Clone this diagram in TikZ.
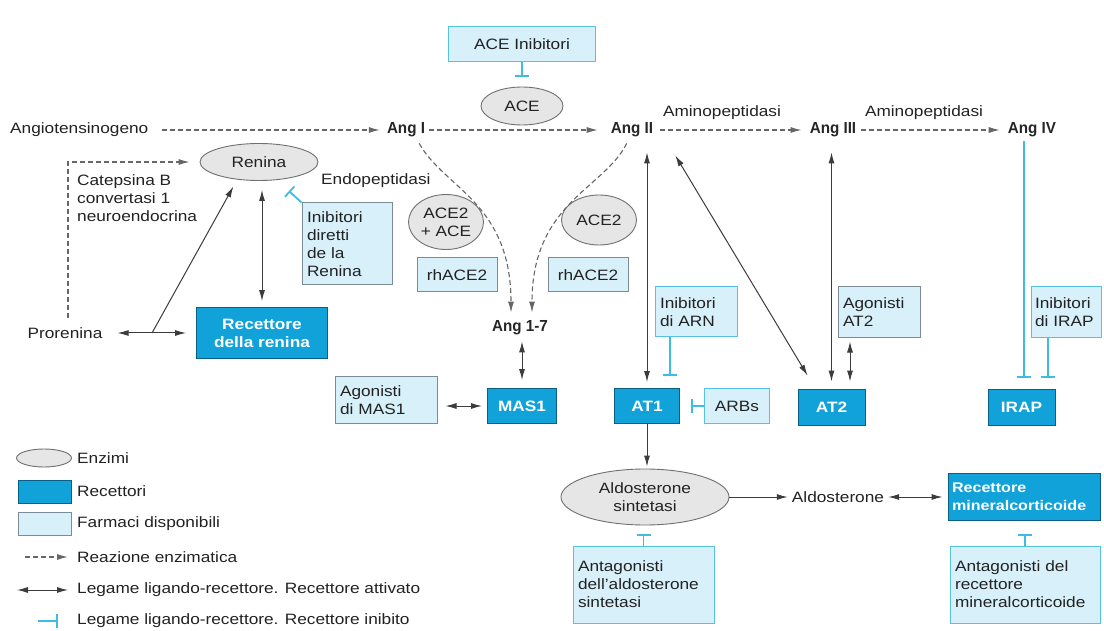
\documentclass[tikz,border=0pt]{standalone}
\usepackage{fontspec}
\setmainfont{Liberation Sans}[FakeStretch=1.15]
\newfontfamily\angfont{Liberation Sans}[FakeStretch=0.95]
\usetikzlibrary{shapes.geometric,arrows.meta,calc}
\definecolor{recfill}{HTML}{12A2DA}
\definecolor{recdraw}{HTML}{0B5F86}
\definecolor{drugfill}{HTML}{D7F0FA}
\definecolor{drugcyan}{HTML}{55C2E2}
\definecolor{druggray}{HTML}{7C8C94}
\definecolor{enzfill}{HTML}{E6E6E6}
\definecolor{enzdraw}{HTML}{707070}
\definecolor{inhcol}{HTML}{3DBDE0}
\definecolor{arrcol}{HTML}{3C3C3C}
\definecolor{dashcol}{HTML}{666666}
\definecolor{txtcol}{HTML}{222222}
\begin{document}
\begin{tikzpicture}[x=1pt,y=-1pt,
  every node/.style={font=\fontsize{15}{18}\selectfont, inner sep=0pt, text=txtcol},
  enz/.style={ellipse, draw=enzdraw, fill=enzfill, line width=0.9pt, align=center},
  recbox/.style={rectangle, draw=recdraw, fill=recfill, line width=0.9pt, text=white, font=\fontsize{15}{18}\selectfont\bfseries, align=center},
  drugbox/.style={rectangle, draw=druggray, fill=drugfill, line width=1pt, inner xsep=5pt, align=left},
  drugcy/.style={drugbox, draw=drugcyan},
  angl/.style={font=\fontsize{16}{18}\angfont\bfseries, text=black!85},
  enzarr/.style={draw=dashcol, line width=1.1pt, dash pattern=on 5pt off 3pt, -{Latex[length=11pt,width=6pt]}},
  bindarr/.style={draw=arrcol, line width=1pt, {Latex[length=11pt,width=6pt]}-{Latex[length=11pt,width=6pt]}},
  actarr/.style={draw=arrcol, line width=1pt, -{Latex[length=11pt,width=6pt]}},
  inharr/.style={draw=inhcol, line width=1.8pt, -{Bar[width=14pt,line width=1.8pt]}},
]
\fill[white] (0,0) rectangle (1104,631);
\useasboundingbox (0,0) rectangle (1104,631);

% top row
\node[drugcy, minimum width=147pt, minimum height=35pt, align=center] (aceinib) at (522,44) {ACE Inibitori};
\node[enz, minimum width=82pt, minimum height=38pt] (ace) at (522,106) {ACE};
\node[anchor=west] (angtxt) at (10,130) {Angiotensinogeno};
\node[angl] (angI) at (406,130) {Ang I};
\node[angl] (angII) at (632,130) {Ang II};
\node[angl] (angIII) at (833,130) {Ang III};
\node[angl] (angIV) at (1032,130) {Ang IV};
\node (amino1) at (722,113) {Aminopeptidasi};
\node (amino2) at (924,113) {Aminopeptidasi};

% renin part
\node[enz, minimum width=118pt, minimum height=37pt] (renina) at (259,162) {Renina};
\node[anchor=west] (endo) at (321,181) {Endopeptidasi};
\node[anchor=west, align=left] (catep) at (77,198.5) {Catepsina B\\convertasi 1\\neuroendocrina};
\node (pror) at (65,333) {Prorenina};
\node[recbox, minimum width=131pt, minimum height=51pt] (recren) at (262,333) {Recettore\\della renina};
\node[drugbox, minimum width=90pt, minimum height=82pt, text width=80pt] (inibdir) at (347,244) {Inibitori\\diretti\\de la\\Renina};

% ACE2 part
\node[enz, minimum width=75pt, minimum height=55pt] (ace2ace) at (446,222) {ACE2\\+ ACE};
\node[drugbox, minimum width=80pt, minimum height=34pt, align=center] (rh1) at (457,275) {rhACE2};
\node[enz, minimum width=75pt, minimum height=50pt] (ace2) at (599,220) {ACE2};
\node[drugbox, minimum width=80pt, minimum height=34pt, align=center] (rh2) at (588,275) {rhACE2};
\node[angl] (ang17) at (520,328) {Ang 1-7};

% receptors
\node[recbox, minimum width=69pt, minimum height=35pt] (mas1) at (522,406) {MAS1};
\node[drugbox, minimum width=102pt, minimum height=47pt, text width=92pt] (agomas) at (386,400) {Agonisti\\di MAS1};
\node[recbox, minimum width=65pt, minimum height=35pt] (at1) at (647,406) {AT1};
\node[drugcy, minimum width=65pt, minimum height=35pt, align=center] (arbs) at (737,406) {ARBs};
\node[drugcy, minimum width=82pt, minimum height=50pt, text width=72pt] (arn) at (696,312) {Inibitori\\di ARN};
\node[recbox, minimum width=67pt, minimum height=36pt] (at2) at (831.5,407) {AT2};
\node[drugbox, minimum width=82pt, minimum height=51pt, text width=72pt] (agoat2) at (879,312.5) {Agonisti\\AT2};
\node[recbox, minimum width=67pt, minimum height=36pt] (irap) at (1021.5,407) {IRAP};
\node[drugcy, minimum width=70pt, minimum height=51pt, text width=62pt, inner xsep=4pt] (inirap) at (1066,312.5) {Inibitori\\di IRAP};

% aldosterone
\node[enz, minimum width=168pt, minimum height=56pt] (aldsint) at (645,497) {Aldosterone\\sintetasi};
\node (aldo) at (838,497) {Aldosterone};
\node[recbox, minimum width=152pt, minimum height=47pt, text width=144pt, inner xsep=4pt, align=left, font=\fontsize{14}{18}\selectfont\bfseries] (recmin) at (1024,497) {Recettore\\mineralcorticoide};
\node[drugcy, minimum width=141pt, minimum height=77pt, text width=131pt] (antald) at (643.5,584.5) {Antagonisti\\dell'aldosterone\\sintetasi};
\node[drugcy, minimum width=150pt, minimum height=77pt, text width=140pt] (antmin) at (1025,584.5) {Antagonisti del\\recettore\\mineralcorticoide};

% legend
\node[enz, minimum width=55pt, minimum height=18pt] (lgenz) at (44,458) {};
\node[anchor=west] (lgenzt) at (77,458) {Enzimi};
\node[recbox, minimum width=53pt, minimum height=23pt] (lgrec) at (44.5,491.5) {};
\node[anchor=west] (lgrect) at (77,491) {Recettori};
\node[drugbox, minimum width=53pt, minimum height=23pt] (lgdrug) at (44.5,523.5) {};
\node[anchor=west] (lgdrugt) at (77,524) {Farmaci disponibili};
\node[anchor=west] (lgenzr) at (77,557) {Reazione enzimatica};
\node[anchor=west] (lgbind) at (77,590) {Legame ligando-recettore. Recettore attivato};
\node[anchor=west] (lginh) at (77,621) {Legame ligando-recettore. Recettore inibito};
\coordinate (l1) at (25,557);
\coordinate (l2) at (17,590);
\coordinate (l3) at (38,621);
\draw[enzarr] (l1) -- ([xshift=-9pt]lgenzr.west);
\draw[bindarr] (l2) -- ([xshift=-9pt]lgbind.west);
\draw[inharr] (l3) -- ([xshift=-19pt]lginh.west);

% connectors: main chain
\draw[inharr, shorten >=10pt] (aceinib.south) -- (ace.north);
\draw[enzarr, shorten <=13pt, shorten >=7pt] (angtxt.east) -- (angI.west);
\draw[enzarr, shorten <=4pt, shorten >=13pt] (angI.east) -- (angII.west);
\draw[enzarr, shorten <=7pt, shorten >=8pt] (angII.east) -- (angIII.west);
\draw[enzarr, shorten <=5pt, shorten >=8pt] (angIII.east) -- (angIV.west);

% renin
\coordinate (catbot) at (68,318);
\draw[enzarr, shorten >=10pt] (catbot) |- (renina.west);
\coordinate (prjoin) at (152,333);
\draw[actarr, shorten >=28pt] (prjoin) -- ($(renina.center)+(-12,0)$);
\draw[bindarr, shorten <=9pt, shorten >=6pt] (renina.south -| recren.north) -- (recren.north);
\draw[bindarr, shorten <=15pt, shorten >=10pt] (pror.east) -- (recren.west);
\coordinate (reninh) at (289,191);
\draw[inharr] (inibdir.north west) -- (reninh);

% ACE2 curves
\draw[enzarr] ($(angI.south east)+(-6,6)$) .. controls +(25,45) and +(0,-110) .. ($(ang17.north)+(-9,-8)$);
\draw[enzarr] ($(angII.south west)+(16,6)$) .. controls +(-22,45) and +(0,-110) .. ($(ang17.north)+(12,-8)$);

% receptors
\draw[bindarr, shorten <=6pt, shorten >=8pt] (ang17.south -| mas1.north) -- (mas1.north);
\draw[bindarr, shorten <=8pt, shorten >=5pt] (agomas.east |- mas1.west) -- (mas1.west);
\draw[bindarr, shorten <=15pt, shorten >=6pt] (at1.north |- angII.south) -- (at1.north);
\draw[inharr, shorten >=11pt] (arbs.west) -- (at1.east);
\draw[inharr, shorten >=12pt] ([xshift=-26pt]arn.south) -- ([xshift=-26pt]arn.south |- at1.north);
\draw[bindarr] ($(angII.south east)+(22,18)$) -- ($(at2.north west)+(10,-13)$);
\draw[bindarr, shorten <=15pt, shorten >=7pt] (at2.north |- angIII.south) -- (at2.north);
\draw[bindarr, shorten <=3pt, shorten >=7pt] ([xshift=-29pt]agoat2.south) -- ([xshift=-29pt]agoat2.south |- at2.north);
\draw[inharr, shorten <=4pt, shorten >=11pt] ([xshift=-8pt]angIV.south) -- ([xshift=-8pt]angIV.south |- irap.north);
\draw[inharr, shorten >=11pt] ([xshift=-18pt]inirap.south) -- ([xshift=-18pt]inirap.south |- irap.north);

% aldosterone
\draw[actarr, shorten >=2pt] (at1.south) -- (at1.south |- aldsint.north);
\draw[actarr, shorten >=4pt] (aldsint.east) -- (aldo.west);
\draw[bindarr, shorten <=4pt, shorten >=5pt] (aldo.east) -- (recmin.west);
\draw[inharr, shorten >=9pt] (antald.north) -- (antald.north |- aldsint.south);
\draw[inharr, shorten >=13pt] (antmin.north) -- (antmin.north |- recmin.south);
\end{tikzpicture}
\end{document}
